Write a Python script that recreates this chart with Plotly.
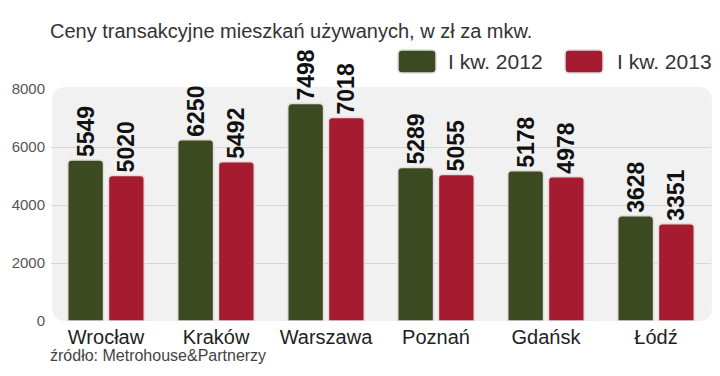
import plotly.graph_objects as go

cities = ["Wrocław", "Kraków", "Warszawa", "Poznań", "Gdańsk", "Łódź"]
q1_2012 = [5549, 6250, 7498, 5289, 5178, 3628]
q1_2013 = [5020, 5492, 7018, 5055, 4978, 3351]
series_names = ["I kw. 2012", "I kw. 2013"]
y_ticks = [0, 2000, 4000, 6000, 8000]

GREEN = "#3c4a22"
RED = "#a51c31"
W, H = 720, 376
ML, MR, MT, MB = 51, 9, 89, 55
PW, PH = W - ML - MR, H - MT - MB

def px(x):
    return (x - ML) / PW

def py(y):
    return (H - MB - y) / PH

def rrect(x0, y0, x1, y1, r):
    return ("M {a},{b} L {c},{b} Q {d},{b} {d},{e} L {d},{f} Q {d},{g} {c},{g} "
            "L {a},{g} Q {h},{g} {h},{f} L {h},{e} Q {h},{b} {a},{b} Z").format(
        a=px(x0 + r), b=py(y0), c=px(x1 - r), d=px(x1), e=py(y0 + r),
        f=py(y1 - r), g=py(y1), h=px(x0))

REG = "Liberation Sans, Arial"

fig = go.Figure()
for name, vals, col in [(series_names[0], q1_2012, GREEN), (series_names[1], q1_2013, RED)]:
    fig.add_trace(go.Bar(
        x=cities, y=vals, name=name,
        marker=dict(color=col, line=dict(color="#e6dcdc", width=1.5), cornerradius=4),
        text=[str(v) for v in vals], textposition="outside", textangle=-90,
        constraintext="none", cliponaxis=False,
        textfont=dict(family=REG, size=23, color="#111", weight="bold"),
    ))

shapes = [
    dict(type="path", xref="paper", yref="paper", layer="below",
         path=rrect(52, 87, 712, 321, 14), fillcolor="#f1f1f1", line=dict(width=0)),
    dict(type="path", xref="paper", yref="paper",
         path=rrect(398, 50, 436, 73, 4), fillcolor=GREEN, line=dict(color="#ddd", width=1.5)),
    dict(type="path", xref="paper", yref="paper",
         path=rrect(565, 50, 603, 73, 4), fillcolor=RED, line=dict(color="#ddd", width=1.5)),
]

annotations = [
    dict(text="Ceny transakcyjne mieszkań używanych, w zł za mkw.", xref="paper", yref="paper",
         x=px(48), y=py(31), xanchor="left", yanchor="middle", showarrow=False,
         font=dict(family=REG, size=20, color="#333")),
    dict(text=series_names[0], xref="paper", yref="paper", x=px(446), y=py(61),
         xanchor="left", yanchor="middle", showarrow=False,
         font=dict(family=REG, size=21, color="#333")),
    dict(text=series_names[1], xref="paper", yref="paper", x=px(615), y=py(61),
         xanchor="left", yanchor="middle", showarrow=False,
         font=dict(family=REG, size=21, color="#333")),
    dict(text="źródło: Metrohouse&Partnerzy", xref="paper", yref="paper", x=px(48), y=py(355),
         xanchor="left", yanchor="middle", showarrow=False,
         font=dict(family=REG, size=16, color="#444")),
]

fig.update_layout(
    width=W, height=H, margin=dict(l=ML, r=MR, t=MT, b=MB, pad=0),
    paper_bgcolor="white", plot_bgcolor="rgba(0,0,0,0)",
    showlegend=False, barmode="group", bargap=0.26, bargroupgap=0.12,
    shapes=shapes, annotations=annotations,
    xaxis=dict(showgrid=False, showline=False, zeroline=False, ticks="",
               tickfont=dict(family=REG, size=20, color="#222"), range=[-0.5, 5.5],
               ticklabelstandoff=2),
    yaxis=dict(range=[0, 8000], tickvals=y_ticks, showgrid=True, gridcolor="#d6d6d6",
               gridwidth=1, zeroline=False, showline=False, ticks="",
               ticklabelstandoff=5,
               tickfont=dict(family=REG, size=15, color="#555")),
)

fig.write_html("out.html", config={"displayModeBar": False},
               post_script="document.body.style.margin='0';document.body.style.padding='0';")
